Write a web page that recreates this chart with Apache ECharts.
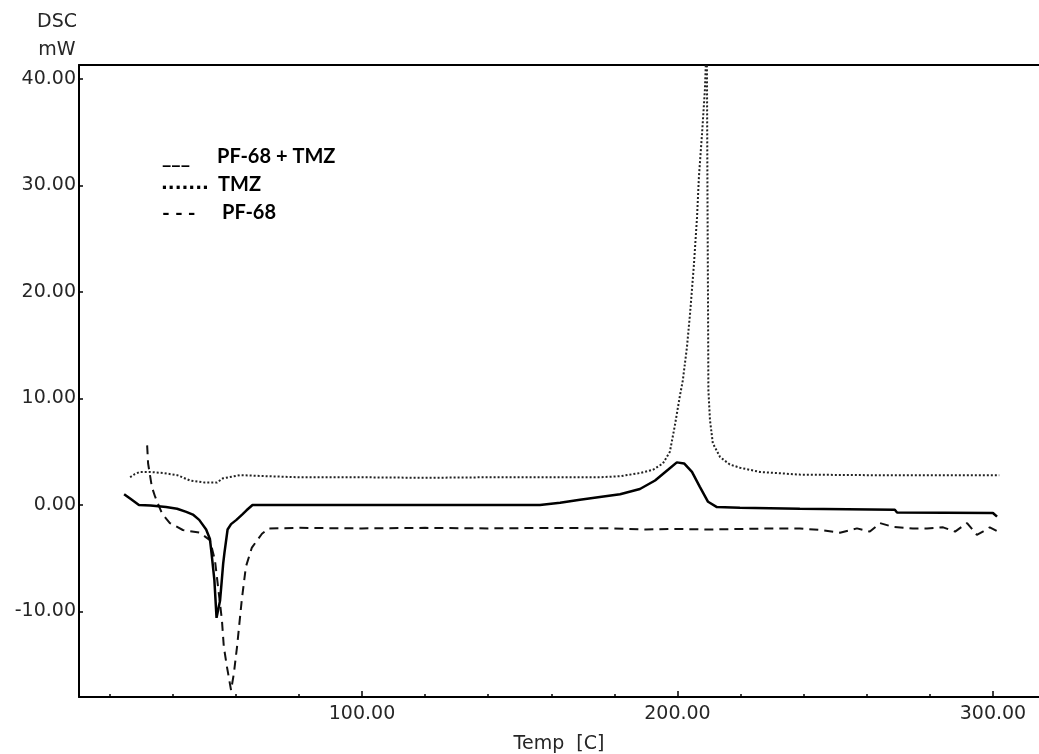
<!DOCTYPE html>
<html>
<head>
<meta charset="utf-8">
<script src="https://cdn.jsdelivr.net/npm/echarts@6/dist/echarts.min.js"></script>
<style>
html,body{margin:0;padding:0;background:#fff;}
#chart{width:1039px;height:754px;}
</style>
</head>
<body>
<div id="chart"></div>
<script>
// ---- data (Temp [C], DSC mW) ----
const seriesNames = ['PF-68 + TMZ', 'TMZ', 'PF-68'];

const pf68TmzData = [
  [24.6,1.0],[26.5,0.6],[29.3,0.0],[33,-0.05],[37.9,-0.2],[41.4,-0.35],[44.3,-0.65],[46.4,-0.9],
  [48.4,-1.4],[50.6,-2.3],[51.8,-3.2],[52.3,-4.5],[53.2,-7.0],[53.9,-10.6],[54.5,-10.6],[55.0,-9.0],
  [55.5,-7.3],[56.0,-5.5],[56.4,-4.5],[57.4,-2.3],[58.5,-1.8],[60.2,-1.4],[62.0,-0.9],[63.4,-0.5],
  [65.3,0.0],[80,0.0],[100,0.0],[120,0.0],[140,0.0],[156.4,0.0],[162.8,0.2],[169.1,0.5],[175.4,0.75],
  [181.8,1.0],[188.1,1.5],[192.9,2.3],[197.0,3.3],[199.8,4.0],[202.1,3.9],[204.6,3.1],[207.1,1.7],
  [209.7,0.3],[212.5,-0.2],[219.8,-0.25],[238.8,-0.35],[268.9,-0.45],[269.6,-0.7],[300.0,-0.75],[301.3,-1.1]
];

const tmzData = [
  [26.5,2.6],[28,2.9],[29.6,3.1],[32.8,3.1],[37,3.0],[41.4,2.8],[45.5,2.3],[50.2,2.1],[54.0,2.1],
  [55.9,2.5],[61.3,2.8],[70,2.7],[80.3,2.6],[100,2.6],[120,2.55],[140,2.6],[160,2.6],[175.4,2.6],
  [181.8,2.7],[188.1,3.0],[192.2,3.3],[195.4,3.9],[197.6,5.0],[199.2,7.5],[200.8,10.3],[201.7,11.7],
  [203.0,14.8],[204.0,18.0],[205.2,22.5],[206.2,27.0],[206.8,30.8],[207.8,34.9],[208.7,39],[209.3,44],
  [209.5,30],[209.7,18],[209.8,10.8],[210.3,8.0],[211.2,5.8],[213.5,4.5],[216.6,3.8],[219.8,3.5],
  [226.1,3.1],[238.8,2.85],[260,2.8],[280,2.8],[302,2.8]
];

const pf68Data = [
  [31.9,5.6],[32.2,3.9],[33.4,1.7],[34.4,0.8],[36.6,-0.8],[39.1,-1.7],[43.2,-2.35],[48.6,-2.6],
  [51.8,-3.3],[53.4,-5.2],[55.6,-10.8],[56.2,-13.3],[57.2,-15.2],[58.5,-17.4],[59.4,-15.8],[60.4,-13.3],
  [61.9,-8.9],[63.2,-5.8],[65.1,-4.0],[68.3,-2.7],[70.5,-2.2],[80,-2.15],[100,-2.2],[120,-2.15],
  [140,-2.2],[160,-2.15],[180,-2.2],[190,-2.3],[200,-2.25],[210,-2.3],[220,-2.25],[230,-2.2],
  [238.8,-2.2],[245.2,-2.35],[251.5,-2.6],[256.9,-2.2],[261.0,-2.5],[264.2,-1.7],[268.3,-2.05],
  [274.6,-2.2],[279.1,-2.2],[284.2,-2.1],[288.0,-2.5],[291.8,-1.7],[294.9,-2.8],[296.8,-2.5],
  [299.0,-2.1],[301.6,-2.5]
];

const xLabelValues = [100, 200, 300];
const xMinorTicks = [20, 40, 60, 80, 120, 140, 160, 180, 220, 240, 260, 280];
const yTickValues = [-10, 0, 10, 20, 30, 40];

const XMIN = 10.3, XMAX = 314.6;
const YMIN = -18.03, YMAX = 41.31;

const labelFont = 'DejaVu Sans';
const textColor = '#262626';

const chart = echarts.init(document.getElementById('chart'), null, {renderer: 'canvas'});

const option = {
  animation: false,
  backgroundColor: '#fff',
  grid: {left: 79, top: 65, right: 0, bottom: 57, containLabel: false, outerBoundsMode: 'none'},
  xAxis: [
    {
      type: 'value', min: XMIN, max: XMAX, position: 'bottom',
      axisLine: {show: true, onZero: false, lineStyle: {color: '#000', width: 2}},
      axisTick: {show: true, inside: true, length: 6, customValues: xLabelValues, lineStyle: {color: '#000', width: 1.5}},
      axisLabel: {show: true, customValues: xLabelValues, formatter: v => v.toFixed(2),
        color: textColor, fontFamily: labelFont, fontSize: 19, margin: 8},
      splitLine: {show: false},
      name: 'Temp  [C]', nameLocation: 'middle', nameGap: 38,
      nameTextStyle: {color: textColor, fontFamily: labelFont, fontSize: 19}
    },
    {
      type: 'value', min: XMIN, max: XMAX, position: 'bottom',
      axisLine: {show: false, onZero: false},
      axisTick: {show: true, inside: true, length: 3, customValues: xMinorTicks, lineStyle: {color: '#000', width: 1.5}},
      axisLabel: {show: false},
      splitLine: {show: false}
    },
    {
      type: 'value', min: XMIN, max: XMAX, position: 'top',
      axisLine: {show: true, onZero: false, lineStyle: {color: '#000', width: 2}},
      axisTick: {show: false}, axisLabel: {show: false}, splitLine: {show: false}
    }
  ],
  yAxis: {
    type: 'value', min: YMIN, max: YMAX,
    axisLine: {show: true, onZero: false, lineStyle: {color: '#000', width: 2}},
    axisTick: {show: true, inside: true, length: 4, customValues: yTickValues, lineStyle: {color: '#000', width: 1.5}},
    axisLabel: {show: true, customValues: yTickValues, formatter: v => v.toFixed(2),
      color: textColor, fontFamily: labelFont, fontSize: 19, margin: 3},
    splitLine: {show: false}
  },
  graphic: [
    {type: 'text', x: 57, y: 22, style: {text: 'DSC', font: '19px "DejaVu Sans"', fill: textColor, align: 'center', verticalAlign: 'middle'}},
    {type: 'text', x: 57, y: 50, style: {text: 'mW', font: '19px "DejaVu Sans"', fill: textColor, align: 'center', verticalAlign: 'middle'}},
    {type: 'text', x: 162, y: 158, style: {text: '___', font: 'bold 20px Lato', fill: '#000', align: 'left', verticalAlign: 'middle'}},
    {type: 'text', x: 217, y: 157, style: {text: 'PF-68 + TMZ', font: 'bold 20px Lato', fill: '#000', align: 'left', verticalAlign: 'middle'}},
    {type: 'text', x: 161, y: 184, style: {text: '.......', font: 'bold 18px "DejaVu Sans"', fill: '#000', align: 'left', verticalAlign: 'middle'}},
    {type: 'text', x: 218, y: 185, style: {text: 'TMZ', font: 'bold 20px Lato', fill: '#000', align: 'left', verticalAlign: 'middle'}},
    {type: 'text', x: 162, y: 213, style: {text: '- - -', font: 'bold 21px Lato', fill: '#000', align: 'left', verticalAlign: 'middle'}},
    {type: 'text', x: 222, y: 213, style: {text: 'PF-68', font: 'bold 20px Lato', fill: '#000', align: 'left', verticalAlign: 'middle'}}
  ],
  series: [
    {name: seriesNames[1], type: 'line', xAxisIndex: 0, data: tmzData, showSymbol: false, symbol: 'none', clip: true,
      lineStyle: {color: '#222', width: 2, type: [2, 2]}},
    {name: seriesNames[2], type: 'line', xAxisIndex: 0, data: pf68Data, showSymbol: false, symbol: 'none', clip: true,
      lineStyle: {color: '#111', width: 2, type: [9, 6]}},
    {name: seriesNames[0], type: 'line', xAxisIndex: 0, data: pf68TmzData, showSymbol: false, symbol: 'none', clip: true,
      lineStyle: {color: '#000', width: 2.5, type: 'solid'}}
  ]
};
chart.setOption(option);
</script>
</body>
</html>
